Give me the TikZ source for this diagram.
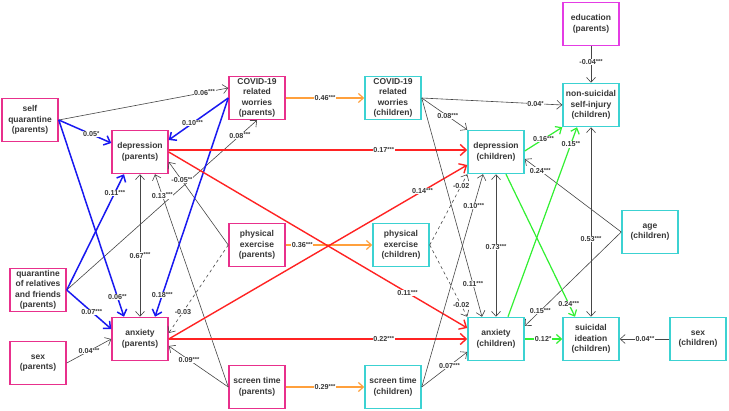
\documentclass[tikz,border=0pt]{standalone}
\usepackage{fontspec}
\usepackage{etoolbox}
\setmainfont{Liberation Sans}
\usetikzlibrary{arrows.meta,calc}
\definecolor{pinkb}{RGB}{232,48,140}
\definecolor{magb}{RGB}{228,60,228}
\definecolor{cyanb}{RGB}{60,210,210}
\definecolor{blueL}{RGB}{25,25,240}
\definecolor{redL}{RGB}{255,35,35}
\definecolor{greenL}{RGB}{50,240,50}
\definecolor{orangeL}{RGB}{255,160,60}
\definecolor{grayL}{RGB}{70,70,70}
\definecolor{txt}{RGB}{55,55,55}
\newcommand{\plab}[2]{#1\raisebox{1.2pt}{\fontsize{5.8}{6}\selectfont #2}}
\newcounter{lbc}
\newcommand{\mylabels}{}
% \E{style}{from}{to}{pos}{label}
\newcommand{\E}[5]{%
  \stepcounter{lbc}\edef\tmpn{\thelbc}%
  \draw[#1] #2 -- coordinate[pos=#4] (L\tmpn) #3;%
  \xappto\mylabels{\noexpand\node[lab] at (L\tmpn) {\unexpanded{#5}};}%
}
\tikzset{
  box/.style={draw,line width=1.5pt,fill=white,minimum width=56pt,minimum height=43pt,
    align=center,font=\fontsize{8.5}{10.5}\selectfont\bfseries,text=txt,inner sep=0.5pt},
  pbox/.style={box,draw=pinkb},
  mbox/.style={box,draw=magb},
  cbox/.style={box,draw=cyanb},
  lab/.style={fill=white,inner sep=0.6pt,font=\fontsize{7.2}{7.5}\selectfont\bfseries,text=txt},
  gl/.style={draw=grayL,line width=0.6pt,-{Straight Barb[length=5pt,width=9pt]}},
  gl2/.style={draw=grayL,line width=0.6pt,{Straight Barb[length=5pt,width=9pt]}-{Straight Barb[length=5pt,width=9pt]}},
  bl/.style={draw=blueL,line width=1.5pt,-{Straight Barb[length=5.5pt,width=10pt]}},
  rl/.style={draw=redL,line width=1.4pt,-{Straight Barb[length=6pt,width=11pt]}},
  ol/.style={draw=orangeL,line width=1.2pt,-{Straight Barb[length=5pt,width=9pt]}},
  grl/.style={draw=greenL,line width=1.2pt,-{Straight Barb[length=5pt,width=9pt]}},
}
\begin{document}
\begin{tikzpicture}[x=1pt,y=-1pt]
\useasboundingbox[fill=white] (0,0) rectangle (729,411);
% nodes
\node[pbox] (sq) at (30,120) {self\\quarantine\\(parents)};
\node[pbox] (depP) at (140,152) {depression\\(parents)};
\node[pbox] (covP) at (257,98) {COVID-19\\related\\worries\\(parents)};
\node[pbox] (qrf) at (38,290) {quarantine\\of relatives\\and friends\\(parents)};
\node[pbox] (anxP) at (140,339) {anxiety\\(parents)};
\node[pbox] (sexP) at (38,363) {sex\\(parents)};
\node[pbox] (peP) at (257,245) {physical\\exercise\\(parents)};
\node[pbox] (stP) at (257,387) {screen time\\(parents)};
\node[cbox] (covC) at (393,98) {COVID-19\\related\\worries\\(children)};
\node[cbox] (peC) at (401,245) {physical\\exercise\\(children)};
\node[cbox] (stC) at (393,387) {screen time\\(children)};
\node[cbox] (depC) at (496,152) {depression\\(children)};
\node[cbox] (anxC) at (496,339) {anxiety\\(children)};
\node[cbox] (siC) at (591,339) {suicidal\\ideation\\(children)};
\node[cbox] (sexC) at (698,339) {sex\\(children)};
\node[cbox] (ageC) at (650,232) {age\\(children)};
\node[mbox] (eduP) at (591,24) {education\\(parents)};
\node[cbox] (nssi) at (591,105) {non-suicidal\\self-injury\\(children)};
% gray edges (parents)
\E{gl}{(sq.east)}{($(covP.west)+(0,-10)$)}{0.86}{\plab{0.06}{***}}
\E{gl}{(qrf.east)}{(covP.south)}{0.91}{\plab{0.08}{***}}
\E{gl}{(peP.west)}{($(depP.east)+(0,10)$)}{0.78}{\plab{-0.05}{**}}
\E{gl,dashed}{(peP.west)}{($(anxP.east)+(0,-6)$)}{0.76}{-0.03}
\E{gl}{(stP.west)}{($(depP.south)+(15,0)$)}{0.90}{\plab{0.13}{***}}
\E{gl}{(stP.west)}{($(anxP.east)+(0,7)$)}{0.66}{\plab{0.09}{***}}
\E{gl2}{(depP.south)}{(anxP.north)}{0.57}{\plab{0.67}{***}}
\E{gl}{(sexP.east)}{(anxP.west)}{0.5}{\plab{0.04}{***}}
% blue edges
\E{bl}{(sq.east)}{($(depP.west)+(0,-9)$)}{0.62}{\plab{0.05}{*}}
\E{bl}{(sq.east)}{($(anxP.north)+(-16,0)$)}{0.90}{\plab{0.06}{**}}
\E{bl}{(qrf.east)}{($(depP.south)+(-16,0)$)}{0.84}{\plab{0.11}{***}}
\E{bl}{(qrf.east)}{($(anxP.west)+(0,-10)$)}{0.56}{\plab{0.07}{***}}
\E{bl}{(covP.west)}{($(depP.east)+(0,-12)$)}{0.6}{\plab{0.10}{***}}
\E{bl}{(covP.west)}{($(anxP.north)+(15,0)$)}{0.90}{\plab{0.18}{***}}
% orange edges
\E{ol}{(covP.east)}{(covC.west)}{0.5}{\plab{0.46}{***}}
\E{ol}{(peP.east)}{(peC.west)}{0.19}{\plab{0.36}{***}}
\E{ol}{(stP.east)}{(stC.west)}{0.5}{\plab{0.29}{***}}
% red edges
\E{rl}{($(depP.east)+(0,-2)$)}{($(depC.west)+(0,-2)$)}{0.72}{\plab{0.17}{***}}
\E{rl}{(depP.east)}{($(anxC.west)+(0,-11)$)}{0.80}{\plab{0.11}{***}}
\E{rl}{(anxP.east)}{($(depC.west)+(0,13)$)}{0.85}{\plab{0.14}{***}}
\E{rl}{(anxP.east)}{(anxC.west)}{0.72}{\plab{0.22}{***}}
% gray edges (children)
\E{gl}{(covC.east)}{(nssi.west)}{0.81}{\plab{0.04}{*}}
\E{gl}{(covC.east)}{(depC.north west)}{0.57}{\plab{0.08}{***}}
\E{gl}{(covC.east)}{($(anxC.north)+(-14,0)$)}{0.85}{\plab{0.11}{***}}
\E{gl,dashed}{(peC.east)}{(depC.south west)}{0.84}{-0.02}
\E{gl,dashed}{(peC.east)}{(anxC.north west)}{0.84}{-0.02}
\E{gl}{(stC.east)}{($(depC.south)+(-13,0)$)}{0.85}{\plab{0.10}{***}}
\E{gl}{(stC.east)}{($(anxC.west)+(0,13)$)}{0.61}{\plab{0.07}{***}}
\E{gl2}{(depC.south)}{(anxC.north)}{0.51}{\plab{0.73}{***}}
\E{gl}{(ageC.west)}{($(depC.east)+(0,7)$)}{0.84}{\plab{0.24}{***}}
\E{gl}{(ageC.west)}{($(anxC.east)+(0,-13)$)}{0.84}{\plab{0.15}{***}}
\E{gl2}{(nssi.south)}{(siC.north)}{0.59}{\plab{0.53}{***}}
\E{gl}{(eduP.south)}{(nssi.north)}{0.43}{\plab{-0.04}{***}}
\E{gl}{(sexC.west)}{(siC.east)}{0.49}{\plab{0.04}{**}}
% green edges
\E{grl}{($(depC.east)+(0,-1)$)}{(nssi.south west)}{0.5}{\plab{0.16}{***}}
\E{grl}{($(anxC.north)+(12,0)$)}{($(nssi.south)+(-14,0)$)}{0.91}{\plab{0.15}{**}}
\E{grl}{($(depC.south)+(10,0)$)}{($(siC.north)+(-16,0)$)}{0.91}{\plab{0.24}{***}}
\E{grl}{(anxC.east)}{(siC.west)}{0.49}{\plab{0.12}{*}}
% labels on top
\mylabels
\end{tikzpicture}
\end{document}
